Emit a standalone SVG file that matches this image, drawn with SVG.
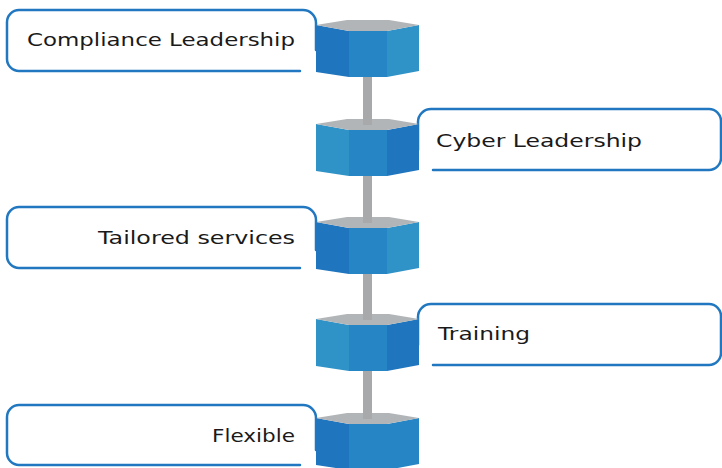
<svg xmlns="http://www.w3.org/2000/svg" width="722" height="468" viewBox="0 0 722 468">
<style>
.box{fill:#fff;stroke:#2178c0;stroke-width:2.5;stroke-linecap:round}
.top{fill:#b2b5b7}
.dk{fill:#1f75be}
.md{fill:#2686c5}
.lt{fill:#2f93c7}
.rod{fill:#a7a9ab}
.lbl{font-family:"DejaVu Sans","Liberation Sans",sans-serif;font-size:17px;fill:#1a1a1a}
</style>
<defs>
<g id="hexA">
<polygon class="dk" points="316,5 349,11 349,57 316,52"/>
<polygon class="md" points="349,11 387,11 387,57 349,57"/>
<polygon class="lt" points="387,11 419,5 419,51 387,57"/>
<polygon class="top" points="316,5 347,0 389,0 419,5 387,11 349,11"/>
</g>
<g id="hexB">
<polygon class="lt" points="316,5 349,11 349,57 316,52"/>
<polygon class="md" points="349,11 387,11 387,57 349,57"/>
<polygon class="dk" points="387,11 419,5 419,51 387,57"/>
<polygon class="top" points="316,5 347,0 389,0 419,5 387,11 349,11"/>
</g>
</defs>
<g id="connectors">
<rect class="rod" x="363" y="70" width="9" height="60"/>
<rect class="rod" x="363" y="170" width="9" height="57"/>
<rect class="rod" x="363" y="267" width="9" height="57"/>
<rect class="rod" x="363" y="364" width="9" height="59"/>
</g>
<g id="node1">
<path class="box" d="M300,71 H19 A12,12 0 0 1 7,59 V22 A12,12 0 0 1 19,10 H303 A13,13 0 0 1 316,23 V50"/>
<use href="#hexA" y="20"/>
<text class="lbl" x="27" y="46" textLength="268" lengthAdjust="spacingAndGlyphs">Compliance Leadership</text>
</g>
<g id="node2">
<path class="box" d="M433,170 H709 A12,12 0 0 0 721,158 V121 A12,12 0 0 0 709,109 H431 A13,13 0 0 0 418,122 V150"/>
<use href="#hexB" y="119"/>
<rect class="rod" x="363" y="119" width="9" height="6"/>
<text class="lbl" x="436" y="147" textLength="206" lengthAdjust="spacingAndGlyphs">Cyber Leadership</text>
</g>
<g id="node3">
<path class="box" d="M300,268 H19 A12,12 0 0 1 7,256 V219 A12,12 0 0 1 19,207 H303 A13,13 0 0 1 316,220 V250"/>
<use href="#hexA" y="217"/>
<rect class="rod" x="363" y="217" width="9" height="6"/>
<text class="lbl" x="98" y="244" textLength="197" lengthAdjust="spacingAndGlyphs">Tailored services</text>
</g>
<g id="node4">
<path class="box" d="M433,365 H709 A12,12 0 0 0 721,353 V316 A12,12 0 0 0 709,304 H431 A13,13 0 0 0 418,317 V345"/>
<use href="#hexB" y="314"/>
<rect class="rod" x="363" y="314" width="9" height="6"/>
<text class="lbl" x="438" y="340" textLength="92" lengthAdjust="spacingAndGlyphs">Training</text>
</g>
<g id="node5">
<path class="box" d="M300,465 H19 A12,12 0 0 1 7,453 V417 A12,12 0 0 1 19,405 H303 A13,13 0 0 1 316,418 V450"/>
<polygon class="dk" points="316,418 349,424 349,470 316,465"/>
<polygon class="md" points="349,424 387,424 387,470 349,470"/>
<polygon class="md" points="387,424 419,418 419,464 387,470"/>
<polygon class="top" points="316,418 347,413 389,413 419,418 387,424 349,424"/>
<rect class="rod" x="363" y="413" width="9" height="6"/>
<text class="lbl" x="212" y="442" textLength="83" lengthAdjust="spacingAndGlyphs">Flexible</text>
</g>
</svg>
